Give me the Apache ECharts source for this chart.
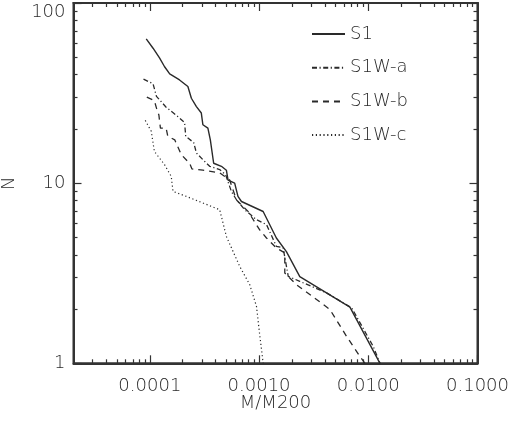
<!DOCTYPE html>
<html><head><meta charset="utf-8">
<script src="https://cdn.jsdelivr.net/npm/echarts@6/dist/echarts.min.js"></script>
<style>html,body{margin:0;padding:0;background:#fff}#c{width:509px;height:421px}</style>
</head><body><div id="c"></div>
<script>
// ---- data ----
var seriesNames = ['S1', 'S1W-a', 'S1W-b', 'S1W-c'];
var s1X = [9.27e-5,1.07e-4,1.23e-4,1.36e-4,1.52e-4,1.87e-4,2.23e-4,2.40e-4,2.67e-4,2.96e-4,3.06e-4,3.40e-4,3.58e-4,3.84e-4,4.52e-4,5.02e-4,5.20e-4,5.98e-4,6.41e-4,6.90e-4,1.09e-3,1.44e-3,1.78e-3,2.36e-3,6.79e-3,0.0128];
var s1Y = [63.2,56.1,49.4,44.4,40.4,37.4,34.4,29.6,26.6,24.5,21.1,20.2,17.4,12.9,12.4,11.8,10.4,10.0,8.44,7.91,6.96,4.96,4.17,3.03,2.05,1];
var aX = [8.75e-5,1.07e-4,1.15e-4,1.41e-4,1.81e-4,2.08e-4,2.13e-4,2.52e-4,2.67e-4,3.06e-4,3.53e-4,4.36e-4,4.95e-4,5.58e-4,6.21e-4,7.40e-4,9.47e-4,1.17e-3,1.44e-3,1.66e-3,1.85e-3,2.36e-3,4.15e-3,7.05e-3,0.0111,0.0128];
var aY = [37.8,35.6,30.3,26.4,23.4,21.7,18.2,16.8,14.7,13.5,12.4,11.9,11.1,9.0,8.09,7.12,6.27,5.89,4.46,4.38,3.04,2.85,2.46,2.03,1.24,1];
var bX = [9.38e-5,1.10e-4,1.15e-4,1.21e-4,1.25e-4,1.41e-4,1.46e-4,1.69e-4,1.94e-4,2.31e-4,2.43e-4,3.06e-4,4.36e-4,5.38e-4,6.21e-4,7.93e-4,1.01e-3,1.17e-3,1.44e-3,1.72e-3,1.72e-3,2.20e-3,3.36e-3,4.45e-3,6.33e-3,8.39e-3,9.33e-3];
var bY = [30.0,28.7,26.1,23.9,20.2,20.2,18.2,17.4,14.4,12.9,12.0,11.8,11.4,10.4,8.07,6.97,5.52,4.96,4.37,4.10,3.17,2.73,2.26,1.99,1.41,1.09,1];
var cX = [9.08e-5,1.03e-4,1.10e-4,1.36e-4,1.57e-4,1.63e-4,2.16e-4,3.06e-4,4.36e-4,4.52e-4,5.02e-4,6.65e-4,8.22e-4,9.47e-4,1.01e-3,1.09e-3];
var cY = [22.3,19.4,15.0,12.7,10.9,9.0,8.44,7.76,7.12,6.53,5.06,3.45,2.73,2.07,1.47,1];

// ---- axes ----
var xMin = 2e-5, xMax = 0.1;
var yMin = 1, yMax = 100;
var xMajorTicks = [1e-4, 1e-3, 1e-2, 1e-1];
var xTickLabels = ['0.0001', '0.0010', '0.0100', '0.1000'];
var yMajorTicks = [1, 10, 100];
var yTickLabels = ['1', '10', '100'];
var mantissas = [2, 3, 4, 5, 6, 7, 8, 9];
var xDecades = [1e-5, 1e-4, 1e-3, 1e-2];
var yDecades = [1, 10];

function minors(decades, lo, hi) {
  var out = [];
  decades.forEach(function (d) {
    mantissas.forEach(function (m) {
      var v = +(m * d).toPrecision(6);
      if (v > lo && v < hi) out.push(v);
    });
  });
  return out;
}
var xMinorTicks = minors(xDecades, xMin, xMax);
var yMinorTicks = minors(yDecades, yMin, yMax);

function zip(xs, ys) { return xs.map(function (x, i) { return [x, ys[i]]; }); }

var INK = '#2a2a2a';
var BOX = '#333';
var FONT = 'DejaVu Sans';
var FW = 200;

function xAxisDef(pos, ticks, len, showLine, labels) {
  return {
    type: 'log', logBase: 10, min: xMin, max: xMax, position: pos,
    axisLine: { show: showLine, onZero: false, lineStyle: { color: BOX, width: 2 } },
    axisTick: { show: true, inside: true, length: len, customValues: ticks, lineStyle: { color: BOX, width: 1.2 } },
    axisLabel: labels ? {
      show: true, customValues: xMajorTicks, margin: 14, color: INK, fontFamily: FONT, fontWeight: FW, fontSize: 18,
      formatter: function (v) { var i = xMajorTicks.findIndex(function (t) { return Math.abs(t - v) / t < 1e-6; }); return i >= 0 ? xTickLabels[i] : ''; }
    } : { show: false },
    splitLine: { show: false }, minorTick: { show: false },
    name: labels ? 'M/M200' : '', nameLocation: 'middle', nameGap: 31, nameMoveOverlap: false,
    nameTextStyle: { color: INK, fontFamily: FONT, fontWeight: FW, fontSize: 18, verticalAlign: 'top' }
  };
}
function yAxisDef(pos, ticks, len, showLine, labels) {
  return {
    type: 'log', logBase: 10, min: yMin, max: yMax, position: pos,
    axisLine: { show: showLine, onZero: false, lineStyle: { color: BOX, width: 2 } },
    axisTick: { show: true, inside: true, length: len, customValues: ticks, lineStyle: { color: BOX, width: 1.2 } },
    axisLabel: labels ? {
      show: true, customValues: yMajorTicks, margin: 8, color: INK, fontFamily: FONT, fontWeight: FW, fontSize: 18,
      formatter: function (v) {
        var i = yMajorTicks.findIndex(function (t) { return Math.abs(t - v) / t < 1e-6; });
        if (i < 0) return '';
        if (yMajorTicks[i] === 100) return '{top|' + yTickLabels[i] + '}';
        return yTickLabels[i];
      },
      rich: { top: { color: INK, fontFamily: FONT, fontWeight: FW, fontSize: 18, padding: [18, 0, 0, 0] } }
    } : { show: false },
    splitLine: { show: false }, minorTick: { show: false },
    name: labels ? 'N' : '', nameLocation: 'middle', nameGap: 55, nameRotate: 90, nameMoveOverlap: false,
    nameTextStyle: { color: INK, fontFamily: FONT, fontWeight: FW, fontSize: 18 }
  };
}

var chart = echarts.init(document.getElementById('c'), null, { renderer: 'canvas' });
var option = {
  animation: false,
  backgroundColor: '#fff',
  grid: { left: 73.5, right: 31.5, top: 3, bottom: 57.7, containLabel: false, outerBoundsMode: 'none',
          show: true, borderColor: BOX, borderWidth: 2, backgroundColor: 'transparent' },
  xAxis: [
    xAxisDef('bottom', xMajorTicks, 8, true, true),
    xAxisDef('bottom', xMinorTicks, 4, false, false),
    xAxisDef('top', xMajorTicks, 8, true, false),
    xAxisDef('top', xMinorTicks, 4, false, false)
  ],
  yAxis: [
    yAxisDef('left', yMajorTicks, 8, true, true),
    yAxisDef('left', yMinorTicks, 4, false, false),
    yAxisDef('right', yMajorTicks, 8, true, false),
    yAxisDef('right', yMinorTicks, 4, false, false)
  ],
  legend: {
    orient: 'vertical', left: 311, top: 25, padding: 0,
    itemWidth: 33, itemHeight: 14, itemGap: 15.7,
    itemStyle: { opacity: 0 },
    textStyle: { color: INK, fontFamily: FONT, fontWeight: FW, fontSize: 18, lineHeight: 16 },
    data: seriesNames
  },
  series: [
    { name: seriesNames[0], type: 'line', data: zip(s1X, s1Y), showSymbol: false, symbol: 'none',
      lineStyle: { color: INK, width: 1.4, type: 'solid' }, itemStyle: { color: INK } },
    { name: seriesNames[1], type: 'line', data: zip(aX, aY), showSymbol: false, symbol: 'none',
      lineStyle: { color: INK, width: 1.3, type: [5, 2.5, 1.2, 2.5] }, itemStyle: { color: INK } },
    { name: seriesNames[2], type: 'line', data: zip(bX, bY), showSymbol: false, symbol: 'none',
      lineStyle: { color: INK, width: 1.3, type: [6, 5] }, itemStyle: { color: INK } },
    { name: seriesNames[3], type: 'line', data: zip(cX, cY), showSymbol: false, symbol: 'none',
      lineStyle: { color: INK, width: 1.2, type: [1.2, 2.6] }, itemStyle: { color: INK } }
  ]
};
chart.setOption(option);
</script>
</body></html>
